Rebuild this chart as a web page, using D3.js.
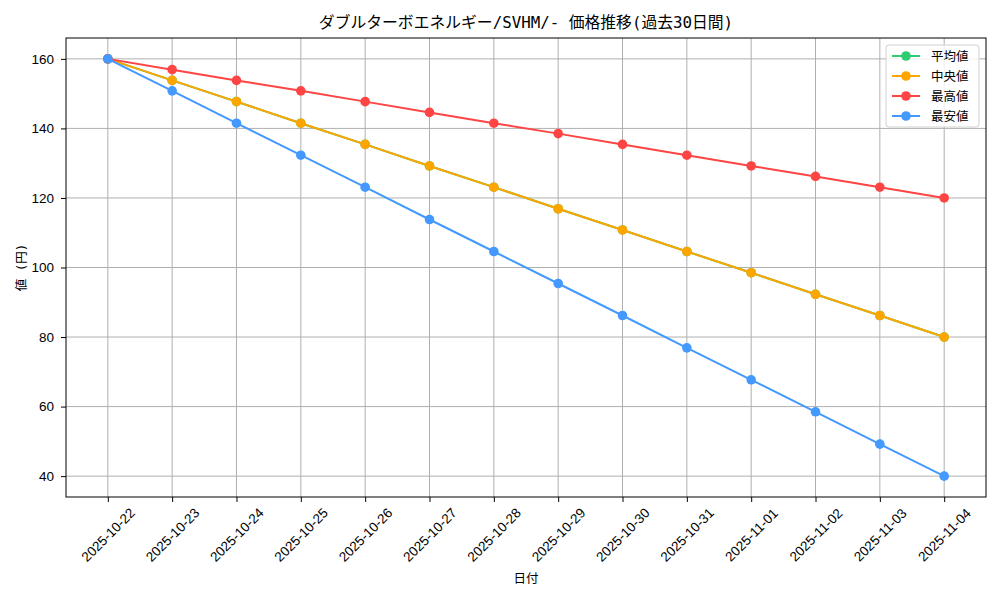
<!DOCTYPE html>
<html><head><meta charset="utf-8">
<script src="https://cdn.jsdelivr.net/npm/d3@7"></script>
<style>
body{margin:0;background:#fff;}
svg{font-family:"DejaVu Sans Mono","Noto Sans CJK JP",sans-serif;}
</style></head>
<body><svg id="c" width="1000" height="600"></svg>
<script>
const dates = ["2025-10-22","2025-10-23","2025-10-24","2025-10-25","2025-10-26","2025-10-27","2025-10-28","2025-10-29","2025-10-30","2025-10-31","2025-11-01","2025-11-02","2025-11-03","2025-11-04"];
const meanVals = [160,153.8,147.7,141.5,135.4,129.2,123.1,116.9,110.8,104.6,98.5,92.3,86.2,80];
const medianVals = [160,153.8,147.7,141.5,135.4,129.2,123.1,116.9,110.8,104.6,98.5,92.3,86.2,80];
const maxVals = [160,156.9,153.8,150.8,147.7,144.6,141.5,138.5,135.4,132.3,129.2,126.2,123.1,120];
const minVals = [160,150.8,141.5,132.3,123.1,113.8,104.6,95.4,86.2,76.9,67.7,58.5,49.2,40];
const yTicks = [40,60,80,100,120,140,160];
const seriesNames = ["平均値","中央値","最高値","最安値"];
const seriesColors = ["#2ECC71","#FFA500","#FF4444","#4499FF"];
const title = "ダブルターボエネルギー/SVHM/- 価格推移(過去30日間)";

const series = [meanVals, medianVals, maxVals, minVals].map((v,i)=>({name:seriesNames[i],color:seriesColors[i],values:v}));

const L=66,R=986,T=38,B=497;
const svg=d3.select("#c");
const x=d3.scalePoint().domain(dates).range([L,R]).padding(0.65);
const y=d3.scaleLinear().domain([34,166]).range([B,T]);

// grid
svg.append("g").selectAll("line").data(dates).join("line")
 .attr("x1",d=>x(d)).attr("x2",d=>x(d)).attr("y1",T).attr("y2",B)
 .attr("stroke","#b0b0b0").attr("stroke-width",1);
svg.append("g").selectAll("line").data(yTicks).join("line")
 .attr("x1",L).attr("x2",R).attr("y1",d=>y(d)).attr("y2",d=>y(d))
 .attr("stroke","#b0b0b0").attr("stroke-width",1);

// axes
const xa=svg.append("g").attr("transform",`translate(0,${B})`).call(d3.axisBottom(x).tickSizeOuter(0).tickSize(5));
xa.select(".domain").remove();
xa.selectAll("text").attr("font-size",13.5).attr("fill","#000")
 .attr("text-anchor","middle").attr("dx",0).attr("dy",0).attr("y",0)
 .attr("transform",`translate(0,38) rotate(-45)`).attr("dominant-baseline","central");
xa.selectAll("line").attr("stroke","#000");
const ya=svg.append("g").attr("transform",`translate(${L},0)`).call(d3.axisLeft(y).tickValues(yTicks).tickSize(5).tickSizeOuter(0));
ya.select(".domain").remove();
ya.selectAll("text").attr("font-size",13.5).attr("fill","#000").attr("x",-12);
ya.selectAll("line").attr("stroke","#000");

svg.append("rect").attr("x",L).attr("y",T).attr("width",R-L).attr("height",B-T)
 .attr("fill","none").attr("stroke","#000").attr("stroke-width",1);

// lines
const line=d3.line().x((d,i)=>x(dates[i])).y(d=>y(d));
series.forEach(s=>{
  const g=svg.append("g");
  g.append("path").attr("d",line(s.values)).attr("fill","none").attr("stroke",s.color).attr("stroke-width",2);
  g.selectAll("circle").data(s.values).join("circle")
   .attr("cx",(d,i)=>x(dates[i])).attr("cy",d=>y(d)).attr("r",4.8).attr("fill",s.color);
});

// labels
svg.append("text").attr("x",(L+R)/2).attr("y",28).attr("text-anchor","middle")
 .attr("font-size",15.8).text(title);
svg.append("text").attr("x",(L+R)/2).attr("y",583).attr("text-anchor","middle")
 .attr("font-size",12.5).text("日付");
svg.append("text").attr("transform",`translate(26,${(T+B)/2}) rotate(-90)`).attr("text-anchor","middle")
 .attr("font-size",12.5).text("値 (円)");

// legend
const lg=svg.append("g");
lg.append("rect").attr("x",886).attr("y",45).attr("width",93).attr("height",82).attr("rx",3)
 .attr("fill","#fff").attr("fill-opacity",0.8).attr("stroke","#d0d0d0");
series.forEach((s,i)=>{
  const yy=56+i*20;
  lg.append("line").attr("x1",892).attr("x2",920).attr("y1",yy).attr("y2",yy).attr("stroke",s.color).attr("stroke-width",2);
  lg.append("circle").attr("cx",906).attr("cy",yy).attr("r",4.8).attr("fill",s.color);
  lg.append("text").attr("x",931).attr("y",yy).attr("dominant-baseline","central").attr("font-size",12.5).text(s.name);
});
</script></body></html>
